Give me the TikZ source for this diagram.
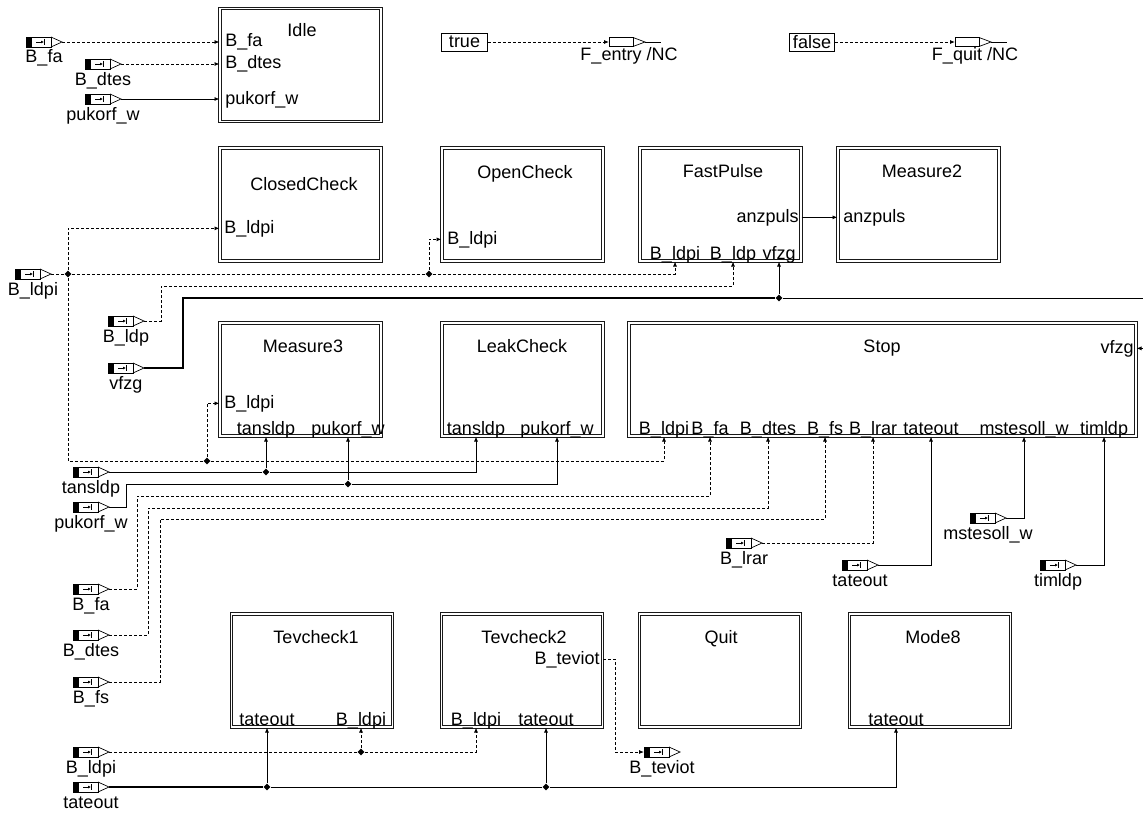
\documentclass[tikz,border=0pt]{standalone}
\usepackage{fontspec}
\setmainfont{Liberation Sans}
\usetikzlibrary{arrows.meta,shapes.geometric}

\begin{document}
\begin{tikzpicture}[x=1pt, y=-1pt, line width=0.8pt, >={Latex[length=5pt,width=4pt]},
  every node/.style={font=\fontsize{18}{21}\selectfont, inner sep=0pt},
  blk/.style={draw=black!90, double, double distance=1.5pt, line width=1pt, minimum width=161pt, minimum height=113pt},
  ttl/.style={anchor=base},
  pw/.style={anchor=base west},
  pe/.style={anchor=base east},
  bsig/.style={dash pattern=on 3pt off 2pt},
  bus/.style={line width=1.6pt},
  jn/.style={diamond, fill, minimum size=7pt},
  cst/.style={draw, minimum height=18pt, line width=0.8pt},
  inport/.pic={
    \fill (0,-5) rectangle (6,5);
    \draw[line width=0.7pt] (0,-5) rectangle (25,5);
    \draw[line width=0.6pt, -{Latex[length=3pt,width=3pt]}] (10,0) -- (18,0);
    \draw[line width=0.6pt] (18.5,-3) -- (18.5,3);
    \draw[line width=0.7pt] (25,-5) -- (36,0) -- (25,5);
    \coordinate (-in) at (0,0);
    \coordinate (-out) at (36,0);
    \node[anchor=base] (-lbl) at (18,21) {#1};
  },
  outsig/.pic={
    \draw[line width=0.7pt] (0,-4.5) rectangle (24,4.5);
    \draw[line width=0.7pt] (24,-4.5) -- (36,0) -- (24,4.5);
    \draw (36,0) -- (52,0);
    \coordinate (-in) at (0,0);
    \node[anchor=base] (-lbl) at (20,19) {#1};
  }]
\useasboundingbox (0,0) rectangle (1143,816);

% blocks
\node[blk] (idle) at (300.5,65) {};
\node[blk] (closedcheck) at (300.5,204.5) {};
\node[blk] (opencheck) at (522.5,204.5) {};
\node[blk] (fastpulse) at (720.5,204.5) {};
\node[blk] (measure2) at (918.5,204.5) {};
\node[blk] (measure3) at (300.5,379.5) {};
\node[blk] (leakcheck) at (522.5,379.5) {};
\node[blk, minimum width=507pt] (stop) at (882.5,379.5) {};
\node[blk] (tevcheck1) at (312,670.5) {};
\node[blk] (tevcheck2) at (522,670.5) {};
\node[blk] (quit) at (720,670.5) {};
\node[blk] (mode8) at (930,670.5) {};

% block titles
\node[ttl] (idleT) at (302,37) {Idle};
\node[ttl] (closedcheckT) at (304,190) {ClosedCheck};
\node[ttl] (opencheckT) at (525,178) {OpenCheck};
\node[ttl] (fastpulseT) at (723,177) {FastPulse};
\node[ttl] (measure2T) at (922,177) {Measure2};
\node[ttl] (measure3T) at (303,352) {Measure3};
\node[ttl] (leakcheckT) at (522,352) {LeakCheck};
\node[ttl] (stopT) at (882,352) {Stop};
\node[ttl] (tevcheck1T) at (316,643) {Tevcheck1};
\node[ttl] (tevcheck2T) at (524,643) {Tevcheck2};
\node[ttl] (quitT) at (721,643) {Quit};
\node[ttl] (mode8T) at (933,643) {Mode8};

% port labels
\node[pw] (idfa) at (225,47) {B\_fa};
\node[pw] (iddtes) at (225,69) {B\_dtes};
\node[pw] (idpuk) at (225,104) {pukorf\_w};
\node[pw] (ccbldpi) at (224,233) {B\_ldpi};
\node[pw] (ocbldpi) at (447,244) {B\_ldpi};
\node[pe] (fpanz) at (799,222) {anzpuls};
\node[pw] (m2anz) at (843,222) {anzpuls};
\node[ttl] (fpbldpi) at (675,259) {B\_ldpi};
\node[ttl] (fpbldp) at (733,259) {B\_ldp};
\node[ttl] (fpvfzg) at (779,259) {vfzg};
\node[pw] (m3bldpi) at (224,408) {B\_ldpi};
\node[ttl] (m3tans) at (266,434) {tansldp};
\node[ttl] (m3puk) at (348,434) {pukorf\_w};
\node[ttl] (lctans) at (476,434) {tansldp};
\node[ttl] (lcpuk) at (557,434) {pukorf\_w};
\node[pe] (stvfzg) at (1134,353) {vfzg};
\node[ttl] (stbldpi) at (664,434) {B\_ldpi};
\node[ttl] (stbfa) at (710,434) {B\_fa};
\node[ttl] (stbdtes) at (768,434) {B\_dtes};
\node[ttl] (stbfs) at (825,434) {B\_fs};
\node[ttl] (stblrar) at (873,434) {B\_lrar};
\node[ttl] (sttate) at (931,434) {tateout};
\node[ttl] (stmstes) at (1024,434) {mstesoll\_w};
\node[ttl] (sttim) at (1104,434) {timldp};
\node[ttl] (t1tate) at (267,725) {tateout};
\node[ttl] (t1bldpi) at (361,725) {B\_ldpi};
\node[ttl] (t2bldpi) at (476,725) {B\_ldpi};
\node[ttl] (t2tate) at (546,725) {tateout};
\node[pe] (t2tev) at (600,664) {B\_teviot};
\node[ttl] (m8tate) at (896,725) {tateout};

% inports, outports, constants
\pic (ifa1) at (26,42) {inport=B\_fa};
\pic (idtes1) at (85,64) {inport=B\_dtes};
\pic (ipuk1) at (85,99) {inport=pukorf\_w};
\pic (ibldpi) at (15,274) {inport=B\_ldpi};
\pic (ibldp) at (108,321) {inport=B\_ldp};
\pic (ivfzg) at (108,368) {inport=vfzg};
\pic (itans) at (73,472) {inport=tansldp};
\pic (ipuk2) at (73,507) {inport=pukorf\_w};
\pic (ifa2) at (73,589) {inport=B\_fa};
\pic (idtes2) at (73,635) {inport=B\_dtes};
\pic (ifs) at (73,682) {inport=B\_fs};
\pic (iblrar) at (726,543) {inport=B\_lrar};
\pic (itate1) at (842,565) {inport=tateout};
\pic (imstes) at (970,518) {inport=mstesoll\_w};
\pic (itimldp) at (1040,565) {inport=timldp};
\pic (ibldpi2) at (73,752) {inport=B\_ldpi};
\pic (itate2) at (73,787) {inport=tateout};
\pic (obteviot) at (644,752) {inport=B\_teviot};
\node[cst, minimum width=46pt] (ctrue) at (464.5,42) {true};
\node[cst, minimum width=45pt] (cfalse) at (812,42) {false};
\pic (oentry) at (609,42) {outsig=F\_entry /NC};
\pic (oquit) at (955,42) {outsig=F\_quit /NC};

% junctions and bends
\node[jn] (jA) at (68,274) {};
\node[jn] (jB) at (429,274) {};
\node[jn] (jC) at (207,461) {};
\node[jn] (jD) at (779,298) {};
\node[jn] (jE) at (266,472) {};
\node[jn] (jF) at (348,484) {};
\node[jn] (jG) at (361,752) {};
\node[jn] (jH) at (267,787) {};
\node[jn] (jI) at (546,787) {};
\coordinate (kldp) at (161,286);
\coordinate (kvf) at (183,298);
\coordinate (kpuk) at (126,484);
\coordinate (kfa) at (137,496);
\coordinate (kdtes) at (148,508);
\coordinate (kfs) at (160,519);
\coordinate (kte) at (615,700);
\coordinate (offr) at (1160,298);

% Idle and constants
\draw[->, bsig] (ifa1-out) -- (ifa1-out -| idle.west);
\draw[->, bsig] (idtes1-out) -- (idtes1-out -| idle.west);
\draw[->] (ipuk1-out) -- (ipuk1-out -| idle.west);
\draw[->, bsig] (ctrue) -- (oentry-in);
\draw[->, bsig] (cfalse) -- (oquit-in);

% B_ldpi
\draw[bsig] (ibldpi-out) -- (jA);
\draw[->, bsig] (jA) |- (closedcheck.west |- ccbldpi);
\draw[bsig] (jA) -- (jB);
\draw[->, bsig] (jB) |- (opencheck.west |- ocbldpi);
\draw[->, bsig] (jB) -| (fpbldpi |- fastpulse.south);
\draw[bsig] (jA) |- (jC);
\draw[->, bsig] (jC) |- (measure3.west |- m3bldpi);
\draw[->, bsig] (jC) -| (stbldpi |- stop.south);

% B_ldp, vfzg, anzpuls
\draw[->, bsig] (ibldp-out) -| (kldp) -| (fpbldp |- fastpulse.south);
\draw[bus] (ivfzg-out) -| (kvf) -- (jD);
\draw[->] (jD) -- (fpvfzg |- fastpulse.south);
\draw[->] (jD) -- (offr) |- (stop.east |- stvfzg);
\draw[->] (fastpulse.east |- fpanz) -- (measure2.west |- fpanz);

% tansldp, pukorf_w
\draw (itans-out) -- (jE);
\draw[->] (jE) -- (m3tans |- measure3.south);
\draw[->] (jE) -| (lctans |- leakcheck.south);
\draw (ipuk2-out) -| (kpuk) -- (jF);
\draw[->] (jF) -- (m3puk |- measure3.south);
\draw[->] (jF) -| (lcpuk |- leakcheck.south);

% Stop inputs
\draw[->, bsig] (ifa2-out) -| (kfa) -| (stbfa |- stop.south);
\draw[->, bsig] (idtes2-out) -| (kdtes) -| (stbdtes |- stop.south);
\draw[->, bsig] (ifs-out) -| (kfs) -| (stbfs |- stop.south);
\draw[->, bsig] (iblrar-out) -| (stblrar |- stop.south);
\draw[->] (itate1-out) -| (sttate |- stop.south);
\draw[->] (imstes-out) -| (stmstes |- stop.south);
\draw[->] (itimldp-out) -| (sttim |- stop.south);

% Tevcheck, Mode8
\draw[bsig] (ibldpi2-out) -- (jG);
\draw[->, bsig] (jG) -- (t1bldpi |- tevcheck1.south);
\draw[->, bsig] (jG) -| (t2bldpi |- tevcheck2.south);
\draw[bus] (itate2-out) -- (jH);
\draw (jH) -- (jI);
\draw[->] (jH) -- (t1tate |- tevcheck1.south);
\draw[->] (jI) -- (t2tate |- tevcheck2.south);
\draw[->] (jI) -| (m8tate |- mode8.south);
\draw[->, bsig] (tevcheck2.east |- t2tev) -| (kte) |- (obteviot-in);
\end{tikzpicture}
\end{document}
